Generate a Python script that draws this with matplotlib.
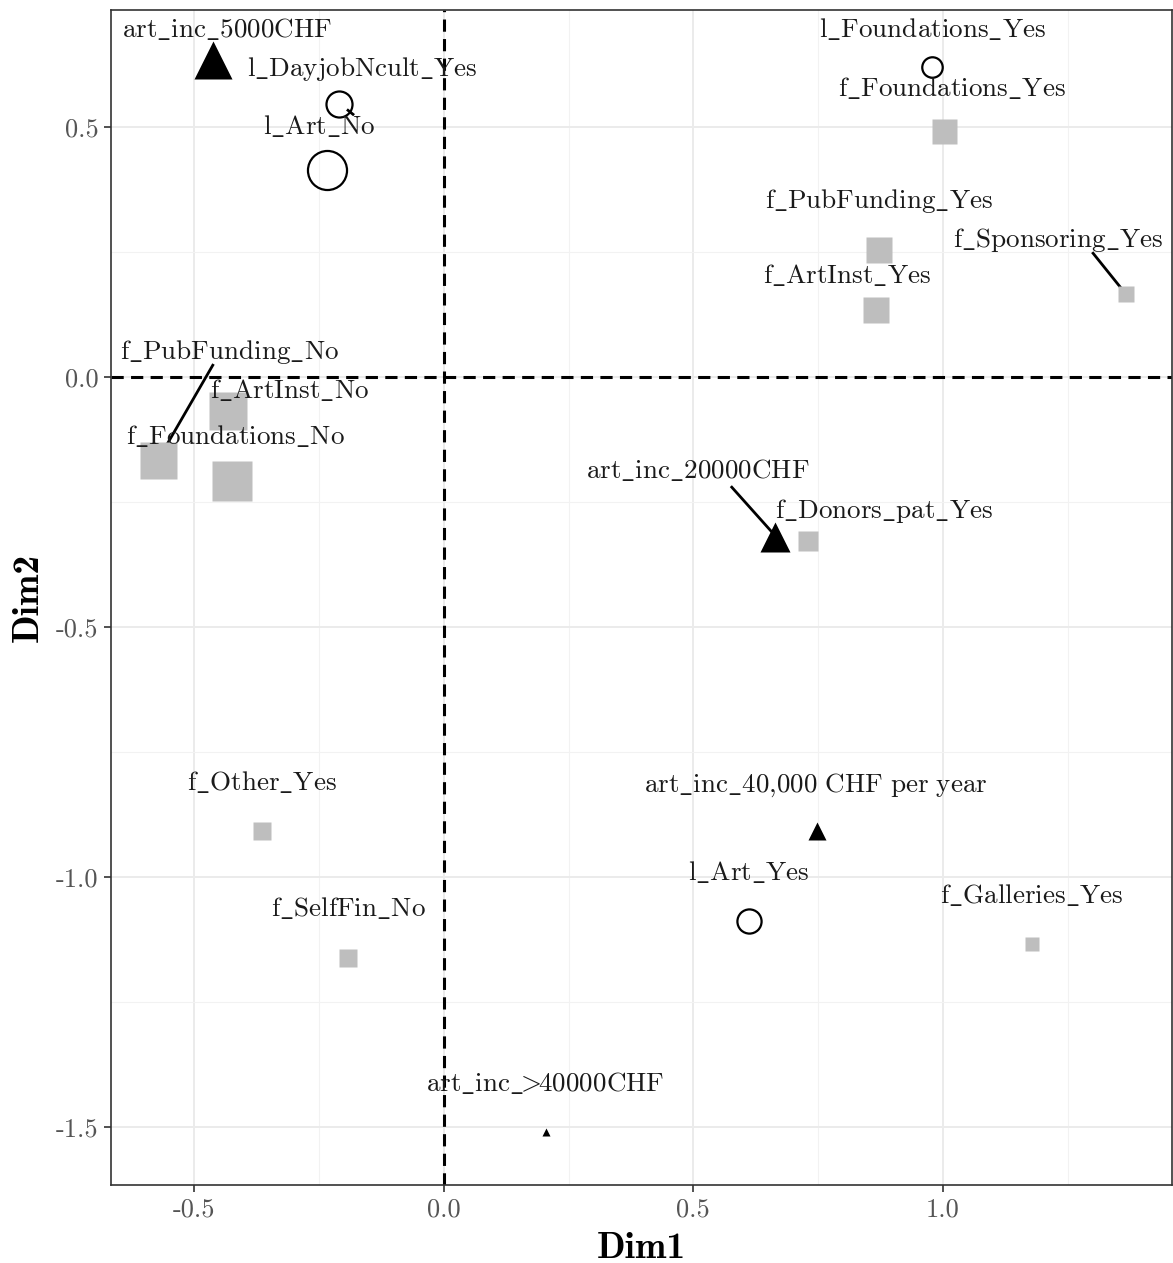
import numpy as np
import matplotlib
matplotlib.use("Agg")
import matplotlib.pyplot as plt

# MCA category coordinates (Dim1, Dim2)
labels = [
    "art_inc_5000CHF", "l_DayjobNcult_Yes", "l_Art_No", "l_Foundations_Yes",
    "f_Foundations_Yes", "f_PubFunding_Yes", "f_Sponsoring_Yes", "f_ArtInst_Yes",
    "f_PubFunding_No", "f_ArtInst_No", "f_Foundations_No", "art_inc_20000CHF",
    "f_Donors_pat_Yes", "f_Other_Yes", "art_inc_40,000 CHF per year", "l_Art_Yes",
    "f_Galleries_Yes", "f_SelfFin_No", "art_inc_>40000CHF",
]
dim1 = [-0.463, -0.210, -0.234, 0.978, 1.002, 0.872, 1.367, 0.866,
        -0.573, -0.433, -0.425, 0.663, 0.729, -0.365, 0.747, 0.611,
        1.178, -0.192, 0.204]
dim2 = [0.634, 0.546, 0.414, 0.620, 0.492, 0.254, 0.166, 0.134,
        -0.166, -0.068, -0.208, -0.320, -0.328, -0.908, -0.908, -1.088,
        -1.134, -1.162, -1.510]
# contribution used for point size
contrib = [38, 28, 42, 22, 25, 27, 16, 26,
           37, 38, 40, 30, 20, 18, 18, 26,
           14, 18, 8]

# repelled label positions
lab_x = [-0.435, -0.164, -0.250, 0.980, 1.018, 0.872, 1.230, 0.808,
         -0.429, -0.309, -0.417, 0.509, 0.882, -0.365, 0.745, 0.611,
         1.178, -0.192, 0.204]
lab_y = [0.694, 0.616, 0.500, 0.694, 0.576, 0.352, 0.274, 0.202,
         0.050, -0.028, -0.120, -0.188, -0.268, -0.812, -0.816, -0.992,
         -1.038, -1.064, -1.414]

# label -> point connector segments (x0, y0, x1, y1)
segments = [
    (-0.463, 0.024, -0.573, -0.166),
    (0.577, -0.220, 0.663, -0.316),
    (1.301, 0.248, 1.367, 0.166),
    (-0.182, 0.526, -0.192, 0.534),
]


def mt(s):
    # mathtext with computer modern, keeps underscores literal
    s = (s.replace("_", r"\_").replace(" ", r"\ ")
          .replace(",", "{,}").replace(">", r"\!\!>\!\!"))
    return r"$\mathrm{%s}$" % s


plt.rcParams["mathtext.fontset"] = "cm"

fig = plt.figure(figsize=(11.73, 12.63), dpi=100)
ax = fig.add_axes([0.0946, 0.0618, 0.9045, 0.930])

ax.set_xlim(-0.667, 1.459)
ax.set_ylim(-1.616, 0.734)

xt = [-0.5, 0.0, 0.5, 1.0]
yt = [-1.5, -1.0, -0.5, 0.0, 0.5]
ax.set_xticks(xt)
ax.set_yticks(yt)
ax.set_xticks([-0.25, 0.25, 0.75, 1.25], minor=True)
ax.set_yticks([-1.25, -0.75, -0.25, 0.25], minor=True)
ax.set_xticklabels(["%.1f" % v for v in xt], fontfamily="cmr10")
ax.set_yticklabels(["%.1f" % v for v in yt], fontfamily="cmr10")
ax.tick_params(which="major", length=5, width=1.2, color="#333333",
               labelcolor="#555555", labelsize=19, pad=4)
ax.tick_params(which="minor", length=0)
ax.grid(which="major", color="#ebebeb", lw=1.4)
ax.grid(which="minor", color="#f2f2f2", lw=0.8)
ax.set_axisbelow(True)
for sp in ax.spines.values():
    sp.set_color("#333333")
    sp.set_linewidth(1.2)

ax.axvline(0, color="black", ls=(0, (4, 2.4)), lw=2.2, zorder=2)
ax.axhline(0, color="black", ls=(0, (4, 2.4)), lw=2.2, zorder=2)

for x0, y0, x1, y1 in segments:
    ax.plot([x0, x1], [y0, y1], color="black", lw=2, zorder=3)

for name, x, y, c in zip(labels, dim1, dim2, contrib):
    ms = c * 0.72
    if name.startswith("art_inc"):
        ax.plot(x, y, marker="^", ms=ms, color="black", mec="none", zorder=4)
    elif name.startswith("l_"):
        ax.plot(x, y, marker="o", ms=ms * 0.93, mfc="none", mec="black",
                mew=1.6, zorder=4)
    else:
        ax.plot(x, y, marker="s", ms=ms, color="#bebebe", mec="none", zorder=4)

for name, x, y in zip(labels, lab_x, lab_y):
    ax.text(x, y, mt(name), ha="center", va="center", fontsize=19.5,
            color="#1a1a1a", zorder=5)

ax.set_xlabel("Dim1", fontfamily="cmb10", fontsize=27, labelpad=8)
ax.set_ylabel("Dim2", fontfamily="cmb10", fontsize=27, labelpad=8)

fig.savefig("out.png", dpi=100)
